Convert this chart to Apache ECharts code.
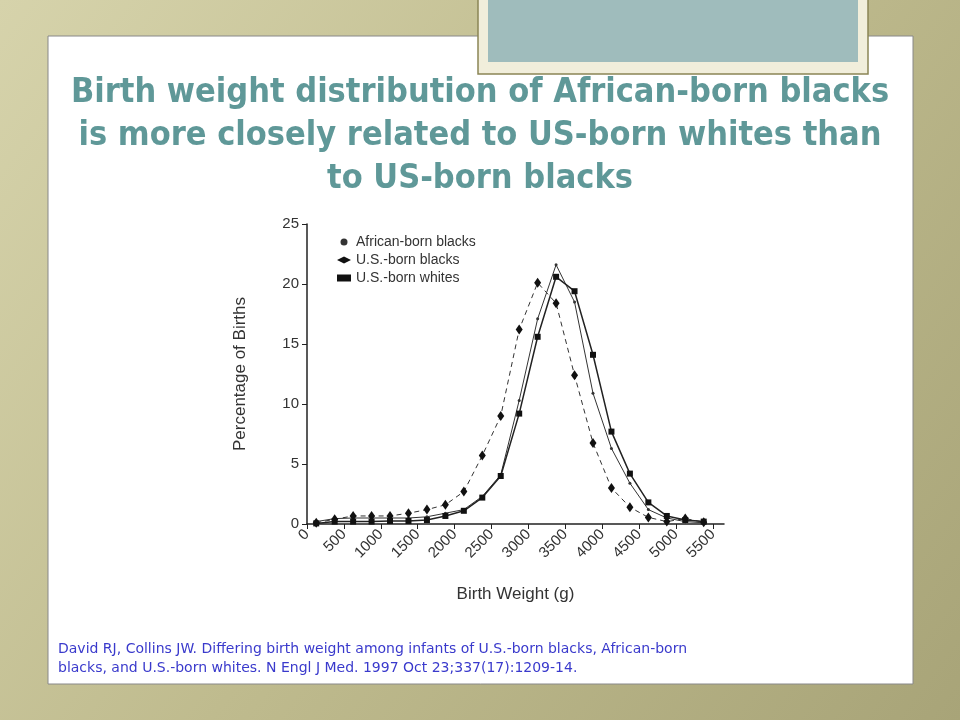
<!DOCTYPE html>
<html><head><meta charset="utf-8">
<script src="https://cdn.jsdelivr.net/npm/echarts@6/dist/echarts.min.js"></script>
<style>html,body{margin:0;padding:0;}#c{width:960px;height:720px;}</style>
</head><body><div id="c"></div>
<script>
const weights = [125,375,625,875,1125,1375,1625,1875,2125,2375,2625,2875,3125,3375,3625,3875,4125,4375,4625,4875,5125,5375];
const africanBorn = [0.2,0.45,0.5,0.5,0.5,0.5,0.6,0.9,1.2,2.3,4.1,10.3,17.1,21.6,18.5,10.9,6.3,3.4,1.2,0.5,0.2,0.1];
const usBlacks = [0.1,0.4,0.67,0.67,0.67,0.9,1.2,1.6,2.7,5.7,9.0,16.2,20.1,18.4,12.4,6.75,3.0,1.4,0.55,0.2,0.45,0.15];
const usWhites = [0.05,0.2,0.2,0.2,0.25,0.25,0.33,0.67,1.1,2.2,4.0,9.2,15.6,20.6,19.4,14.1,7.7,4.2,1.8,0.67,0.33,0.2];
const seriesNames = ['African-born blacks','U.S.-born blacks','U.S.-born whites'];
const yTicks = [0,5,10,15,20,25];

const pair = a => weights.map((w,i)=>[w,a[i]]);
const chart = echarts.init(document.getElementById('c'));
const ink = '#222';
chart.setOption({
  backgroundColor: new echarts.graphic.LinearGradient(0,0,1,1,[{offset:0,color:'#d6d3ab'},{offset:0.5,color:'#bfbb8e'},{offset:1,color:'#a8a478'}]),
  animation:false,
  graphic:[
    {type:'rect',shape:{x:48,y:36,width:865,height:648},style:{fill:'#fff',stroke:'#888',lineWidth:1},z:-10},
    {type:'rect',shape:{x:478,y:-2,width:390,height:76},style:{fill:'#f1eedb',stroke:'#8a8556',lineWidth:1.5},z:-9},
    {type:'rect',shape:{x:488,y:-2,width:370,height:64},style:{fill:'#9fbcbc'},z:-8},
    {type:'text',left:'center',top:72,style:{text:'Birth weight distribution of African-born blacks\nis more closely related to US-born whites than\nto US-born blacks',fill:'#5f9898',font:'bold 34px "DejaVu Sans Condensed", "Liberation Sans", Arial, sans-serif',textAlign:'center',lineHeight:43}},
    {type:'text',left:58,top:640,style:{text:'David RJ, Collins JW. Differing birth weight among infants of U.S.-born blacks, African-born\nblacks, and U.S.-born whites. N Engl J Med. 1997 Oct 23;337(17):1209-14.',fill:'#3a3acc',font:'14px "DejaVu Sans", Arial, sans-serif',lineHeight:19}}
  ],
  grid:{left:307,right:236,top:224,bottom:196,containLabel:false},
  legend:{orient:'vertical',left:332,top:230,itemGap:4,itemWidth:14,itemHeight:7,
    textStyle:{color:'#333',fontSize:14,fontFamily:'"Liberation Sans", Arial'},
    data:[{name:seriesNames[0],icon:'circle',itemStyle:{opacity:1}},{name:seriesNames[1],icon:'diamond'},{name:seriesNames[2],icon:'rect'}]},
  xAxis:{type:'value',min:0,max:5650,interval:500,name:'Birth Weight (g)',nameLocation:'middle',nameGap:62,
    nameTextStyle:{color:'#333',fontSize:17,fontFamily:'"Liberation Sans", Arial'},
    axisLine:{lineStyle:{color:ink,width:1.5}},axisTick:{lineStyle:{color:ink},length:5},splitLine:{show:false},
    axisLabel:{rotate:45,color:'#333',fontSize:15,showMaxLabel:false,formatter:v=>v%500===0?String(v):''}},
  yAxis:{type:'value',min:0,max:25,interval:5,name:'Percentage of Births',nameLocation:'middle',nameGap:58,
    nameTextStyle:{color:'#333',fontSize:17,fontFamily:'"Liberation Sans", Arial'},
    axisLine:{show:true,lineStyle:{color:ink,width:1.5}},axisTick:{show:true,lineStyle:{color:ink},length:5},splitLine:{show:false},
    axisLabel:{color:'#333',fontSize:15,formatter:v=>yTicks.includes(v)?String(v):''}},
  series:[
    {name:seriesNames[0],type:'line',data:pair(africanBorn),symbol:'circle',symbolSize:3,lineStyle:{color:'#333',width:1},itemStyle:{color:'#333'}},
    {name:seriesNames[1],type:'line',data:pair(usBlacks),symbol:'diamond',symbolSize:[7,10],lineStyle:{color:'#333',width:1,type:[5,4]},itemStyle:{color:'#111'}},
    {name:seriesNames[2],type:'line',data:pair(usWhites),symbol:'rect',symbolSize:6,lineStyle:{color:'#222',width:1.5},itemStyle:{color:'#111'}}
  ]
});
</script></body></html>
